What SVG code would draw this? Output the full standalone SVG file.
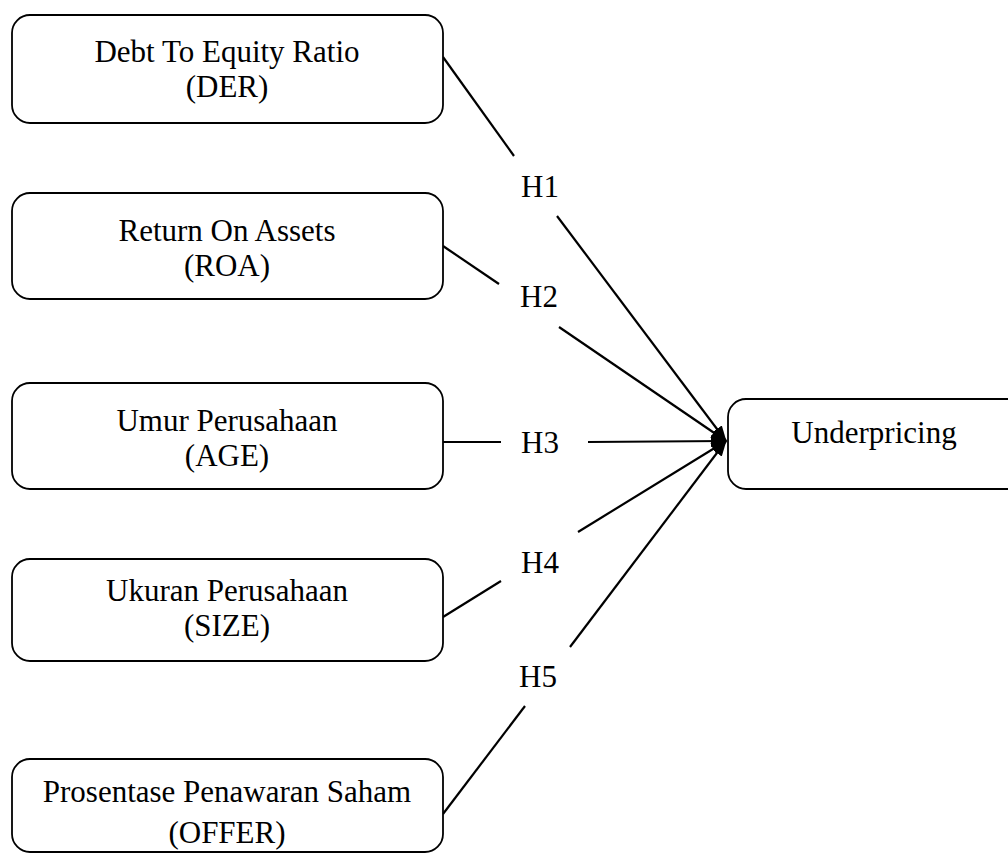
<svg xmlns="http://www.w3.org/2000/svg" width="1008" height="854" viewBox="0 0 1008 854">
<style>
.box{fill:#fff;stroke:#000;stroke-width:1.8}
.t{font-family:"Liberation Serif","Times New Roman",serif;font-size:31px;fill:#000;text-anchor:middle}
.c{stroke:#000;stroke-width:2.2;fill:none}
</style>
<defs>
<marker id="ah" markerUnits="userSpaceOnUse" markerWidth="16" markerHeight="12" refX="15" refY="6" orient="auto">
<path d="M0,0 L16,6 L0,12 z" fill="#000"/>
</marker>
</defs>
<rect width="1008" height="854" fill="#fff"/>
<g id="connectors">
<line class="c" x1="443" y1="57" x2="514" y2="156"/>
<line class="c" x1="557" y1="216" x2="726" y2="441" marker-end="url(#ah)"/>
<line class="c" x1="443" y1="246" x2="499" y2="284"/>
<line class="c" x1="559" y1="327" x2="726" y2="441" marker-end="url(#ah)"/>
<line class="c" x1="443" y1="442" x2="501" y2="442"/>
<line class="c" x1="588" y1="442" x2="726" y2="441" marker-end="url(#ah)"/>
<line class="c" x1="443" y1="617" x2="501" y2="581"/>
<line class="c" x1="578" y1="532" x2="726" y2="441" marker-end="url(#ah)"/>
<line class="c" x1="443" y1="814" x2="525" y2="706"/>
<line class="c" x1="570" y1="647" x2="726" y2="441" marker-end="url(#ah)"/>
<text class="t" x="540" y="197">H1</text>
<text class="t" x="539" y="307">H2</text>
<text class="t" x="540" y="453">H3</text>
<text class="t" x="540" y="573">H4</text>
<text class="t" x="538" y="687">H5</text>
</g>
<g id="der">
<rect class="box" x="12" y="15" width="431" height="108" rx="18"/>
<text class="t" x="227" y="62">Debt To Equity Ratio</text>
<text class="t" x="227" y="97">(DER)</text>
</g>
<g id="roa">
<rect class="box" x="12" y="193" width="431" height="106" rx="18"/>
<text class="t" x="227" y="241">Return On Assets</text>
<text class="t" x="227" y="276">(ROA)</text>
</g>
<g id="age">
<rect class="box" x="12" y="383" width="431" height="106" rx="18"/>
<text class="t" x="227" y="431">Umur Perusahaan</text>
<text class="t" x="227" y="466">(AGE)</text>
</g>
<g id="size">
<rect class="box" x="12" y="559" width="431" height="102" rx="18"/>
<text class="t" x="227" y="601">Ukuran Perusahaan</text>
<text class="t" x="227" y="636">(SIZE)</text>
</g>
<g id="offer">
<rect class="box" x="12" y="759" width="431" height="93" rx="18"/>
<text class="t" x="227" y="802">Prosentase Penawaran Saham</text>
<text class="t" x="227" y="843">(OFFER)</text>
</g>
<g id="underpricing">
<rect class="box" x="728" y="399" width="300" height="90" rx="18"/>
<text class="t" x="874" y="443">Underpricing</text>
</g>
</svg>
